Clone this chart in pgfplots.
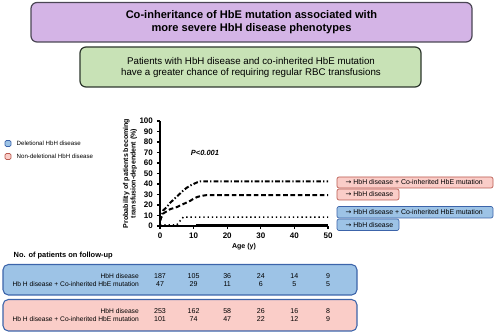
\documentclass[border=0pt]{standalone}
\usepackage{pgfplots}
\pgfplotsset{compat=1.18}
\usepackage{fontspec}
\setmainfont{Liberation Sans}
\newfontfamily\djv{DejaVu Sans}
\begin{document}
\begin{tikzpicture}
\definecolor{purp}{RGB}{212,180,230}
\definecolor{purpb}{RGB}{75,70,85}
\definecolor{grn}{RGB}{200,226,182}
\definecolor{grnb}{RGB}{45,55,45}
\definecolor{blu}{RGB}{157,195,230}
\definecolor{blub}{RGB}{60,100,170}
\definecolor{pnk}{RGB}{250,205,200}
\definecolor{pnkb}{RGB}{185,90,80}
\begin{scope}[x=0.75pt,y=-0.75pt]
\path (0,0) rectangle (500,334);
% title boxes
\draw[draw=purpb, fill=purp, line width=0.9pt, rounded corners=4.5pt] (31,2.5) rectangle (472,42);
\node[font=\bfseries\fontsize{8.3}{9.8}\selectfont, align=center] at (251.5,22) {Co-inheritance of HbE mutation associated with\\more severe HbH disease phenotypes};
\draw[draw=grnb, fill=grn, line width=0.9pt, rounded corners=4.5pt] (80,47) rectangle (421,87);
\node[font=\fontsize{7.3}{8.3}\selectfont, align=center] at (251,67.5) {Patients with HbH disease and co-inherited HbE mutation\\have a greater chance of requiring regular RBC transfusions};
% left legend
\draw[draw=blub, fill=blu, line width=0.5pt, rounded corners=1pt] (5,140.5) rectangle (11,146.5);
\node[anchor=west, font=\fontsize{4.6}{5.5}\selectfont] at (12,143.5) {Deletional HbH disease};
\draw[draw=pnkb, fill=pnk, line width=0.5pt, rounded corners=1pt] (5,153.5) rectangle (11,159.5);
\node[anchor=west, font=\fontsize{4.6}{5.5}\selectfont] at (12,156.5) {Non-deletional HbH disease};
% right legend
\draw[draw=pnkb, fill=pnk, line width=0.5pt, rounded corners=1.5pt] (337,177) rectangle (493,188);
\node[anchor=west, font=\fontsize{5.2}{6}\selectfont] at (341,182.5) {{\djv →} HbH disease + Co-inherited HbE mutation};
\draw[draw=pnkb, fill=pnk, line width=0.5pt, rounded corners=1.5pt] (337,189) rectangle (399,200);
\node[anchor=west, font=\fontsize{5.2}{6}\selectfont] at (341,194.5) {{\djv →} HbH disease};
\draw[draw=blub, fill=blu, line width=0.5pt, rounded corners=1.5pt] (337,206.5) rectangle (493,218);
\node[anchor=west, font=\fontsize{5.2}{6}\selectfont] at (341,212.2) {{\djv →} HbH disease + Co-inherited HbE mutation};
\draw[draw=blub, fill=blu, line width=0.5pt, rounded corners=1.5pt] (337,219) rectangle (399,230.5);
\node[anchor=west, font=\fontsize{5.2}{6}\selectfont] at (341,224.7) {{\djv →} HbH disease};
% table
\node[anchor=west, font=\bfseries\fontsize{5.6}{6.5}\selectfont] at (9,256) {No. of patients on follow-up};
\draw[draw=blub, fill=blu, line width=0.8pt, rounded corners=4pt] (3,264.5) rectangle (357,295);
\draw[draw=blub, fill=pnk, line width=0.8pt, rounded corners=4pt] (3,299.5) rectangle (357,331);
\foreach \yy/\lab in {276/{HbH disease},284.5/{Hb H disease + Co-inherited HbE mutation},311/{HbH disease},319.5/{Hb H disease + Co-inherited HbE mutation}}
  \node[anchor=east, font=\fontsize{5.0}{6}\selectfont] at (143.5,\yy) {\lab};
\foreach \xx/\a/\b/\c/\d in {160/187/47/253/101, 193.6/105/29/162/74, 227.2/36/11/58/47, 260.8/24/6/26/22, 294.4/14/5/16/12, 328/9/5/8/9}{
  \node[font=\fontsize{5.3}{6}\selectfont] at (\xx,276) {\a};
  \node[font=\fontsize{5.3}{6}\selectfont] at (\xx,284.5) {\b};
  \node[font=\fontsize{5.3}{6}\selectfont] at (\xx,311) {\c};
  \node[font=\fontsize{5.3}{6}\selectfont] at (\xx,319.5) {\d};
}
\node[font=\bfseries\itshape\fontsize{5.6}{6.5}\selectfont] at (205,153) {P<0.001};
\end{scope}
\begin{axis}[
  at={(120pt,-169.5pt)}, anchor=south west,
  scale only axis, width=126pt, height=78.75pt,
  xmin=0, xmax=50, ymin=0, ymax=100,
  axis lines=left, axis line style={-, line width=1.1pt},
  tick align=outside, major tick length=2.3pt,
  tick style={line width=0.9pt, black},
  xtick={0,10,...,50}, ytick={0,10,...,100},
  /pgf/number format/assume math mode=true,
  ticklabel style={font=\bfseries\fontsize{6}{7}\selectfont},
  xticklabel style={yshift=1pt},
  yticklabel style={xshift=0.5pt},
  xlabel={Age (y)}, ylabel={Probability of patients becoming\\transfusion-dependent (\%)},
  label style={font=\bfseries\fontsize{5.3}{5.6}\selectfont, align=center},
  xlabel style={yshift=3pt},
  ylabel style={yshift=-5pt},
  clip=false,
]
\addplot[black, line width=1.5pt, dash pattern=on 3.5pt off 1.6pt on 1pt off 1.6pt] coordinates {
(0,5) (0.5,10) (1,15) (2,18) (3,22) (4,25) (5,28) (6,31) (7,34) (8,36.5) (9,38.5) (10,40) (11,41.5) (12,42.5) (50,42.5)};
\addplot[black, line width=1.5pt, dash pattern=on 3.5pt off 2pt] coordinates {
(0,5) (0.5,9) (1,12) (2,14) (3,16) (5,18) (7,21) (9,24) (10,26) (11,27.5) (12,28.5) (14,29.5) (50,29.5)};
\addplot[black, line width=1.2pt, dash pattern=on 1pt off 2.2pt] coordinates {
(0,1) (5,1) (5.5,3) (6,5) (6.5,7) (7,8.5) (50,8.5)};
\addplot[black, line width=1.6pt] coordinates {
(0,0) (11,0) (11,1) (50,1)};
\end{axis}
\end{tikzpicture}
\end{document}
